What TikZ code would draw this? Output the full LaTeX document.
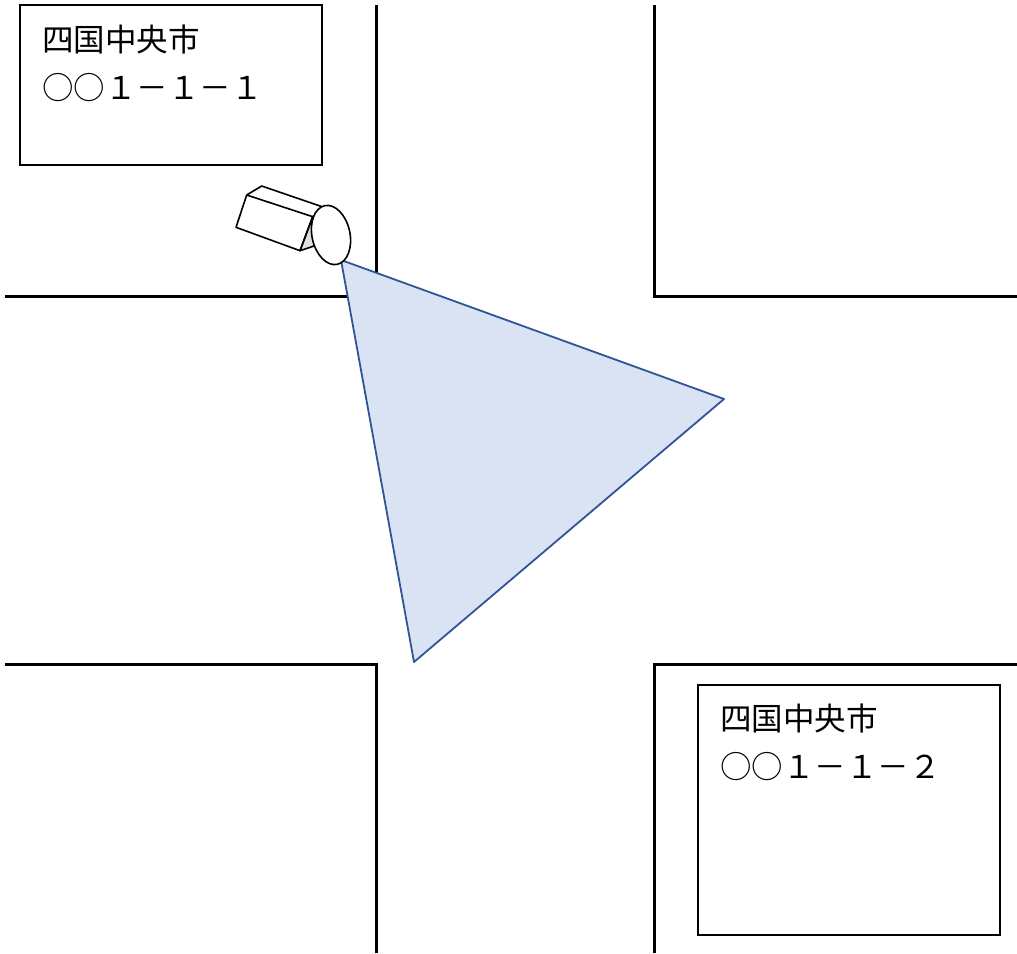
\documentclass[tikz,border=0pt]{standalone}
\usepackage{fontspec}
\newfontfamily\jafont{Noto Sans CJK JP}
\usetikzlibrary{positioning}
\definecolor{viewfill}{HTML}{DAE3F3}
\definecolor{viewline}{HTML}{2F5597}
\tikzset{
	road/.style={line width=3pt},
	addrbox/.style={line width=1.3pt},
	addr/.style={anchor=north west, inner sep=0pt, align=left, font=\jafont\fontsize{31.5}{48}\selectfont},
	cam/.style={line width=1.6pt, line join=round}
}
\begin{document}
\begin{tikzpicture}[x=1pt,y=-1pt]
		\useasboundingbox (0,0) rectangle (1017,953);
		%
		% Bords des routes
		%
		\foreach \xa/\xb/\ya/\yb in {376/5/5/296, 654/1017/5/296, 376/5/953/664, 654/1017/953/664}{
			\draw[road] (\xa,\ya) -- (\xa,\yb) -- (\xb,\yb);
		}
		%
		% Adresses
		%
		\draw[addrbox] (20,5) rectangle (322,165);
		\node[addr] (addrA) at (42,25) {四国中央市\\○○１－１－１};
		\draw[addrbox] (698,685) rectangle (1000,935);
		\node[addr] (addrB) at (720,704) {四国中央市\\○○１－１－２};
		%
		% Champ de la camera
		%
		\filldraw[fill=viewfill, draw=viewline, line width=1.8pt, line join=round] (341,260) -- (724,399) -- (414,662) -- cycle;
		%
		% Camera
		%
		\fill[white] (246.7,195) -- (261.7,186) -- (326.7,208.3) -- (310,245) -- (300,250.7) -- (236,227.3) -- cycle;
		\filldraw[cam, fill=gray!25] (312.7,216.7) -- (326.7,208.3) -- (314,246) -- (300,250.7) -- cycle;
		\draw[cam] (246.7,195) -- (236,227.3) -- (300,250.7) -- (312.7,216.7) -- cycle;
		\draw[cam] (246.7,195) -- (261.7,186) -- (326.7,208.3) -- (312.7,216.7);
		\filldraw[cam, fill=white, rotate around={12:(331,235)}] (331,235) ellipse (19 and 30);
	\end{tikzpicture}
\end{document}
